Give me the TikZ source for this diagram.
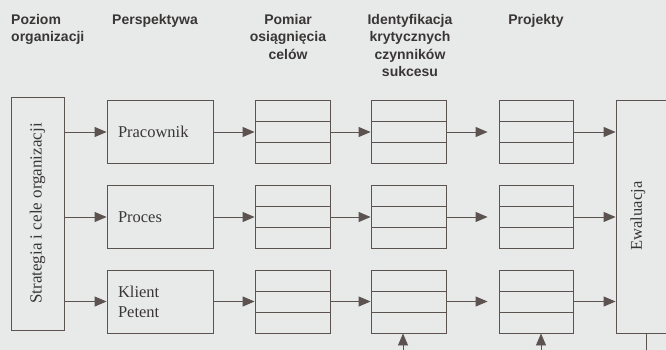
\documentclass[tikz,border=0pt]{standalone}
\usepackage{fontspec}
\setmainfont{Liberation Serif}
\newfontfamily\headfont{Liberation Sans}
\usetikzlibrary{arrows.meta,calc}
\definecolor{paper}{HTML}{E8EAEA}
\definecolor{ink}{HTML}{5C5250}
\definecolor{textink}{HTML}{3A3636}
\begin{document}
\begin{tikzpicture}[x=1pt,y=-1pt,
  box/.style={draw=ink, line width=0.9pt, rectangle, inner sep=0pt},
  persp/.style={box, minimum width=106pt, minimum height=63pt, text width=84pt,
    inner xsep=11pt, align=left, font=\fontsize{16.5}{20}\selectfont, text=textink},
  cell/.style={box, minimum width=75pt, minimum height=63pt,
    path picture={
      \draw[ink, line width=0.9pt]
        ($(path picture bounding box.north west)!1/3!(path picture bounding box.south west)$) --
        ($(path picture bounding box.north east)!1/3!(path picture bounding box.south east)$)
        ($(path picture bounding box.north west)!2/3!(path picture bounding box.south west)$) --
        ($(path picture bounding box.north east)!2/3!(path picture bounding box.south east)$);
    }},
  conn/.style={draw=ink, line width=0.9pt, -{Triangle[length=12pt,width=10pt]}},
  plain/.style={draw=ink, line width=0.9pt},
  head/.style={font=\headfont\bfseries\fontsize{14}{17.5}\selectfont, text=textink, inner sep=0pt},
  vert/.style={rotate=90, font=\fontsize{16.5}{20}\selectfont, text=textink, inner sep=0pt}
]
% page
\fill[paper] (0,0) rectangle (666,350);
\useasboundingbox (0,0) rectangle (666,350);

% column headings
\node[head, anchor=north west, align=left] (hpoz) at (11,14) {Poziom\\organizacji};
\node[head, anchor=north west] (hper) at (112,14) {Perspektywa};
\node[head, anchor=north, align=center] (hpom) at (288,14) {Pomiar\\osiągnięcia\\celów};
\node[head, anchor=north, align=center] (hide) at (410,14) {Identyfikacja\\krytycznych\\czynników\\sukcesu};
\node[head, anchor=north] (hpro) at (536,14) {Projekty};

% organisation level
\node[box, rotate=90, minimum width=233pt, minimum height=53pt,
      font=\fontsize{17}{20}\selectfont, text=textink] (strat) at (37.5,213.5)
      {Strategia i cele organizacji};

% perspectives
\node[persp] (per1) at (160,132) {Pracownik};
\node[persp] (per2) at (160,217) {Proces};
\node[persp] (per3) at (160,301.5) {Klient\\Petent};

% measurement, critical factors, projects
\foreach \r/\y in {1/132,2/217,3/301.5}{
  \node[cell] (pom\r) at (292.5,\y) {};
  \node[cell] (ide\r) at (408.5,\y) {};
  \node[cell, minimum width=74pt] (pro\r) at (536,\y) {};
}

% evaluation
\node[box, minimum width=64pt, minimum height=233pt] (ewa) at (648,216.5) {};
\node[vert] (ewatext) at (638,216) {Ewaluacja};

% flows along each row
\foreach \r in {1,2,3}{
  \draw[conn] (strat.south |- per\r) -- (per\r.west);
  \draw[conn] (per\r) -- (pom\r);
  \draw[conn] (pom\r) -- (ide\r);
  \draw[conn, shorten >=11pt] (ide\r) -- (pro\r);
  \draw[conn] (pro\r) -- (ewa.west |- pro\r);
}

% inputs from below and the evaluation exit
\coordinate (inA) at (403,352);
\coordinate (inB) at (541,352);
\coordinate (outE) at (646,352);
\draw[conn] (inA) -- (inA |- ide3.south);
\draw[conn] (inB) -- (inB |- pro3.south);
\draw[plain] (outE |- ewa.south) -- (outE);
\end{tikzpicture}
\end{document}
